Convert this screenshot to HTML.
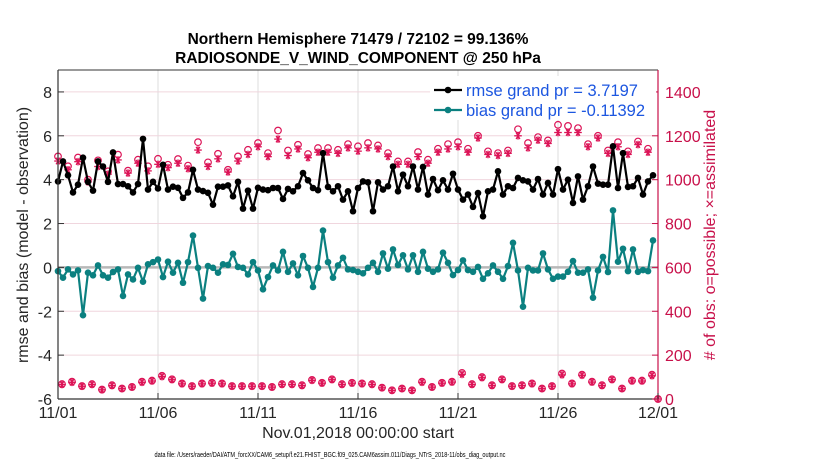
<!DOCTYPE html>
<html><head><meta charset="utf-8"><style>
body{margin:0;background:#fff;width:830px;height:470px;overflow:hidden;font-family:"Liberation Sans",sans-serif}
</style></head><body>
<svg id="chart" width="830" height="470" xmlns="http://www.w3.org/2000/svg" font-family="Liberation Sans, sans-serif"></svg>
<script>
const rmseValues=[3.92,4.83,4.2,3.42,3.77,5.0,3.9,3.5,4.83,4.6,3.9,5.24,3.8,3.8,3.7,3.42,3.8,5.86,3.55,3.9,3.6,4.68,3.55,3.68,3.63,3.17,3.42,4.45,3.55,3.48,3.4,2.86,3.68,3.68,3.74,3.24,3.9,2.68,3.5,2.68,3.63,3.55,3.52,3.62,3.62,3.12,3.58,3.47,3.7,4.3,3.97,3.62,3.52,5.21,3.67,3.47,3.7,3.09,3.47,2.56,3.62,3.92,3.88,2.56,3.88,3.55,3.7,4.6,3.47,4.23,3.7,4.6,3.55,4.58,3.32,4.03,3.52,3.97,3.55,4.27,3.55,3.09,3.32,2.76,3.39,2.33,3.47,3.55,4.38,3.32,3.7,3.62,4.08,3.97,3.92,3.55,4.03,3.32,3.85,3.32,4.48,3.55,4.0,2.94,4.15,3.09,3.7,4.6,3.82,3.77,3.77,5.52,3.62,5.21,3.67,3.7,4.08,3.32,3.92,4.2];
const biasValues=[-0.17,-0.47,-0.09,-0.32,-0.14,-2.18,-0.24,-0.36,0.09,-0.36,-0.47,-0.21,-0.09,-1.3,-0.32,-0.55,-0.02,-0.65,0.14,0.24,0.36,-0.44,0.26,-0.24,0.21,-0.7,0.24,1.45,-0.02,-1.42,0.06,-0.02,-0.24,0.14,0.11,0.62,0.02,-0.02,-0.32,0.24,-0.14,-1.0,-0.44,0.09,-0.14,0.71,-0.2,0.18,-0.36,0.52,-0.02,-0.89,-0.02,1.68,0.24,-0.47,0.09,0.44,-0.09,-0.12,-0.2,-0.27,-0.02,0.21,-0.2,0.64,-0.06,0.82,0.11,0.55,-0.09,0.55,-0.2,0.71,-0.06,-0.2,-0.09,0.67,0.21,-0.35,-0.12,0.32,-0.12,-0.2,0.02,-0.52,-0.27,0.09,-0.2,-0.52,0.06,1.12,-0.14,-1.79,-0.02,-0.14,-0.14,0.64,-0.09,-0.52,-0.42,-0.42,-0.2,0.29,-0.24,-0.24,-0.09,-1.38,-0.14,0.48,-0.21,2.6,0.26,0.85,-0.17,0.82,-0.2,-0.12,-0.17,1.23];
const possibleHigh=[1106,1061,1101,1000,1088,1038,1114,1041,1091,1061,1095,1068,1094,1064,1171,1079,1118,1045,1106,1136,1167,1121,1224,1133,1159,1117,1144,1144,1136,1162,1152,1167,1156,1121,1083,1083,1126,1091,1141,1162,1171,1141,1200,1129,1121,1133,1230,1167,1194,1179,1250,1245,1235,1162,1200,1133,1171,1129,1174,1141];
const assimHigh=[1085,1045,1082,990,1060,1025,1090,1030,1075,1040,1070,1055,1075,1050,1135,1060,1095,1035,1085,1115,1150,1105,1185,1110,1140,1100,1125,1125,1120,1145,1130,1145,1140,1105,1070,1070,1105,1075,1125,1140,1150,1125,1190,1115,1110,1120,1200,1145,1180,1165,1215,1215,1215,1150,1190,1120,1150,1115,1160,1125];
const possibleLow=[68,79,59,68,43,63,48,55,79,84,106,90,71,59,71,74,71,59,59,59,59,55,68,68,63,87,74,90,68,74,71,68,52,40,48,40,79,55,74,79,119,68,100,63,90,59,63,71,48,59,116,71,111,79,63,90,48,84,84,111];
const assimLow=[66,76,58,66,42,61,47,54,76,82,102,88,69,58,69,72,69,58,58,58,58,54,66,66,61,85,72,88,66,72,69,66,51,39,47,39,76,54,72,77,112,66,97,61,88,58,61,69,47,58,110,69,108,77,61,88,47,82,82,106];
const finalObs=0;
const xTickLabels=["11/01","11/06","11/11","11/16","11/21","11/26","12/01"];
const xTickDays=[0,5,10,15,20,25,30];
const yTicksLeft=[-6,-4,-2,0,2,4,6,8];
const yTicksRight=[0,200,400,600,800,1000,1200,1400];

const svg=document.getElementById('chart');
const NS='http://www.w3.org/2000/svg';
const X0=58,X1=658,Y0=70,Y1=399;
const xs=d=>X0+(d/30)*(X1-X0);
const yl=v=>Y1-(v+6)/15*(Y1-Y0);
const yr=v=>Y1-v/1500*(Y1-Y0);
function mk(tag,attrs,parent){const e=document.createElementNS(NS,tag);for(const k in attrs)e.setAttribute(k,attrs[k]);(parent||svg).appendChild(e);return e;}
function txt(s,attrs){const e=mk('text',attrs);e.textContent=s;return e;}

mk('rect',{x:X0,y:Y0,width:X1-X0,height:Y1-Y0,fill:'#fff'});
xTickDays.forEach(d=>{const l=mk('line',{x1:xs(d),x2:xs(d),y1:Y0,y2:Y1,stroke:'#dcdcdc','stroke-width':1});
});
yTicksLeft.forEach(v=>{const l=mk('line',{x1:X0,x2:X1,y1:yl(v),y2:yl(v),stroke:'#f0d6de','stroke-width':1});
});
const zl=mk('line',{x1:X0,x2:X1,y1:yl(0),y2:yl(0),stroke:'#b8b8b8','stroke-width':2.5});


function obsMark(x,y,kind){
 const g=mk('g',{});
 if(kind==='o'){mk('circle',{cx:x,cy:y,r:3.3,fill:'none',stroke:'#dc1457','stroke-width':1.2},g);}
 else{ [0,60,120].forEach(a=>{const r=a*Math.PI/180;mk('line',{x1:x-3.8*Math.cos(r),y1:y-3.8*Math.sin(r),x2:x+3.8*Math.cos(r),y2:y+3.8*Math.sin(r),stroke:'#dc1457','stroke-width':1.3},g);});
 mk('line',{x1:x,y1:y-3.8,x2:x,y2:y+3.8,stroke:'#dc1457','stroke-width':1.3},g);}
 return g;
}
possibleHigh.forEach((v,i)=>{const g=obsMark(xs(i*0.5),yr(v),'o');});
assimHigh.forEach((v,i)=>{const g=obsMark(xs(i*0.5),yr(v),'x');});
possibleLow.forEach((v,i)=>{const g=obsMark(xs(i*0.5+0.2),yr(v),'o');});
assimLow.forEach((v,i)=>{const g=obsMark(xs(i*0.5+0.2),yr(v),'x');});
const fo=obsMark(xs(30),yr(finalObs),'x');
const fo2=obsMark(xs(30),yr(finalObs),'o');

function series(vals,color,name){
 const pts=vals.map((v,i)=>[xs(i*0.25),yl(v)]);
 const p=mk('polyline',{points:pts.map(p=>p.join(',')).join(' '),fill:'none',stroke:color,'stroke-width':2.2,'stroke-linejoin':'round'});
 
 pts.forEach(q=>{const c=mk('circle',{cx:q[0],cy:q[1],r:3.3,fill:color});
 });
}
series(rmseValues,'#000','rmse');
series(biasValues,'#0b8080','bias');

mk('line',{x1:X0,x2:X1,y1:Y0,y2:Y0,stroke:'#333','stroke-width':1});
mk('line',{x1:X0,x2:X1,y1:Y1,y2:Y1,stroke:'#333','stroke-width':1.2});
mk('line',{x1:X0,x2:X0,y1:Y0,y2:Y1,stroke:'#333','stroke-width':1.2});
mk('line',{x1:X1,x2:X1,y1:Y0,y2:Y1,stroke:'#c8104a','stroke-width':1.2});

xTickDays.forEach((d,i)=>{mk('line',{x1:xs(d),x2:xs(d),y1:Y1,y2:Y1-6,stroke:'#333'});
 const t=txt(xTickLabels[i],{x:xs(d),y:Y1+19,'font-size':16,'text-anchor':'middle',fill:'#262626'});
 });
yTicksLeft.forEach(v=>{mk('line',{x1:X0,x2:X0+6,y1:yl(v),y2:yl(v),stroke:'#333'});
 const t=txt(String(v),{x:X0-6,y:yl(v)+6,'font-size':16,'text-anchor':'end',fill:'#262626'});
 });
yTicksRight.forEach(v=>{mk('line',{x1:X1,x2:X1-6,y1:yr(v),y2:yr(v),stroke:'#c8104a'});
 const t=txt(String(v),{x:X1+7,y:yr(v)+6,'font-size':16,'text-anchor':'start',fill:'#c8104a'});
 });

const lg=mk('g',{});
mk('rect',{x:430,y:76,width:226,height:44,fill:'#fff'},lg);
[['#000','rmse grand pr = 3.7197',90],['#0b8080','bias grand pr = -0.11392',110]].forEach(e=>{
 mk('line',{x1:434,x2:462,y1:e[2],y2:e[2],stroke:e[0],'stroke-width':2.2},lg);
 mk('circle',{cx:448,cy:e[2],r:3.3,fill:e[0]},lg);
 const t=document.createElementNS(NS,'text');t.setAttribute('x',466);t.setAttribute('y',e[2]+6);t.setAttribute('font-size',16.5);t.setAttribute('fill','#1c56e0');t.textContent=e[1];lg.appendChild(t);
 
});
</script>
<div style="position:absolute;left:0;top:30px;width:716px;text-align:center;font-weight:bold;font-size:15.5px;line-height:19px;color:#000">Northern Hemisphere 71479 / 72102 = 99.136%<br>RADIOSONDE_V_WIND_COMPONENT @ 250 hPa</div>
<div style="position:absolute;left:24px;top:235px;transform:translate(-50%,-50%) rotate(-90deg);white-space:nowrap;font-size:16px;color:#262626">rmse and bias (model - observation)</div>
<div style="position:absolute;left:711px;top:235px;transform:translate(-50%,-50%) rotate(-90deg);white-space:nowrap;font-size:16px;color:#c8104a"># of obs: o=possible; ×=assimilated</div>
<div style="position:absolute;left:358px;top:425px;transform:translateX(-50%);white-space:nowrap;font-size:16px;color:#262626">Nov.01,2018 00:00:00 start</div>
<div style="position:absolute;left:330px;top:452px;transform:translateX(-50%) scaleX(0.8);white-space:nowrap;font-size:7px;color:#000">data file: /Users/raeder/DAI/ATM_forcXX/CAM6_setup/f.e21.FHIST_BGC.f09_025.CAM6assim.011/Diags_NTrS_2018-11/obs_diag_output.nc</div>
</body></html>
